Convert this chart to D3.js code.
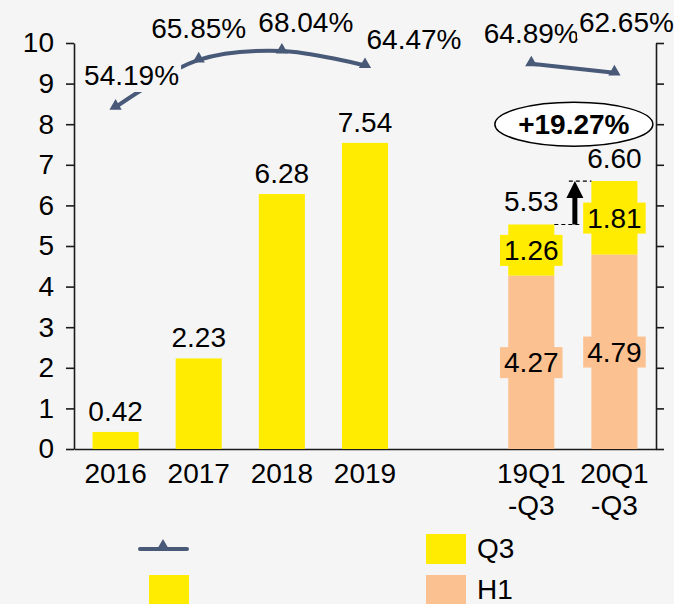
<!DOCTYPE html>
<html>
<head>
<meta charset="utf-8">
<script src="https://cdn.jsdelivr.net/npm/d3@7"></script>
<style>
  html, body { margin: 0; padding: 0; background: #f5f5f5; }
  svg { display: block; font-family: "Liberation Sans", Arial, sans-serif; }
</style>
</head>
<body>
<svg id="chart" width="674" height="604"></svg>
<script>
// categories, '' is the empty slot between the years and the quarters
const categories = ['2016', '2017', '2018', '2019', '', '19Q1\n-Q3', '20Q1\n-Q3'];
const annual = [0.42, 2.23, 6.28, 7.54, null, null, null];
const h1 = [null, null, null, null, null, 4.27, 4.79];
const q3 = [null, null, null, null, null, 1.26, 1.81];
const margin = [0.5419, 0.6585, 0.6804, 0.6447, null, 0.6489, 0.6265];
const growthText = '+19.27%';
const yTicks = [0, 1, 2, 3, 4, 5, 6, 7, 8, 9, 10];
const legendNames = ['', '', 'Q3', 'H1'];

let cs = {
    colors: { yellow: '#ffec00', peach: '#fcc190', line: '#485a78', axis: '#1a1a1a', bg: '#f5f5f5' },
    font: 28,
    plot: { left: 74, right: 656, top: 43, bottom: 449 },
    // label nudges for the percentage labels (centre offset from point)
    pctOffset: [[16, -32], [0, -32], [24, -29], [49, -26], [0, 0], [0, -31], [12, -51]]
};

const svg = d3.select('#chart');
svg.append('rect').attr('width', 674).attr('height', 604).attr('fill', cs.colors.bg);

const x = d3.scaleBand()
    .domain(categories)
    .range([cs.plot.left, cs.plot.right])
    .paddingInner(0.446)
    .paddingOuter(0.223);
const y = d3.scaleLinear().domain([0, 10]).range([cs.plot.bottom, cs.plot.top]);
const y2 = d3.scaleLinear().domain([-0.3, 0.7]).range([cs.plot.bottom, cs.plot.top]);
const cx = c => x(c) + x.bandwidth() / 2;

// text with a filled box behind it
function boxedText(g, tx, ty, str, fill, padX, padY, weight) {
    let t = g.append('text')
        .attr('x', tx).attr('y', ty)
        .attr('dy', '0.35em')
        .attr('text-anchor', 'middle')
        .attr('font-size', cs.font)
        .attr('font-weight', weight || 'normal')
        .attr('fill', '#000')
        .text(str);
    let b = t.node().getBBox();
    g.insert('rect', function () { return t.node(); })
        .attr('x', b.x - padX).attr('y', b.y - padY)
        .attr('width', b.width + 2 * padX).attr('height', b.height + 2 * padY)
        .attr('fill', fill);
    return t;
}

// axes
const yAxis = d3.axisLeft(y).tickValues(yTicks).tickSize(8).tickSizeOuter(0).tickPadding(12);
const gy = svg.append('g').attr('transform', 'translate(' + cs.plot.left + ',0)').call(yAxis);
gy.selectAll('text').attr('font-size', cs.font).attr('font-family', null).attr('fill', '#000');

const y2Axis = d3.axisRight(y2).tickValues(d3.range(11).map(i => -0.3 + i * 0.1))
    .tickSize(8).tickSizeOuter(0).tickFormat('');
svg.append('g').attr('transform', 'translate(' + cs.plot.right + ',0)').call(y2Axis);

const xAxis = d3.axisBottom(x).tickSize(0).tickSizeOuter(0).tickPadding(0).tickFormat('');
const gx = svg.append('g').attr('transform', 'translate(0,' + cs.plot.bottom + ')').call(xAxis);

svg.selectAll('.domain, .tick line').attr('stroke', cs.colors.axis).attr('stroke-width', 1.6);

gx.selectAll('.tick').each(function (d) {
    let lines = d.split('\n');
    let t = d3.select(this).append('text')
        .attr('text-anchor', 'middle')
        .attr('font-size', cs.font)
        .attr('fill', '#000');
    lines.forEach((s, i) => {
        t.append('tspan').attr('x', 0).attr('y', 34 + i * 32).text(s);
    });
});

// annual bars
const bars = svg.append('g');
categories.forEach((c, i) => {
    if (annual[i] == null) return;
    bars.append('rect')
        .attr('x', x(c)).attr('width', x.bandwidth())
        .attr('y', y(annual[i])).attr('height', y(0) - y(annual[i]))
        .attr('fill', cs.colors.yellow);
    bars.append('text')
        .attr('x', cx(c)).attr('y', y(annual[i]) - 11)
        .attr('text-anchor', 'middle')
        .attr('font-size', cs.font)
        .text(d3.format('.2f')(annual[i]));
});

// stacked quarter bars
const stack = svg.append('g');
categories.forEach((c, i) => {
    if (h1[i] == null) return;
    let tot = h1[i] + q3[i];
    stack.append('rect')
        .attr('x', x(c)).attr('width', x.bandwidth())
        .attr('y', y(h1[i])).attr('height', y(0) - y(h1[i]))
        .attr('fill', cs.colors.peach);
    stack.append('rect')
        .attr('x', x(c)).attr('width', x.bandwidth())
        .attr('y', y(tot)).attr('height', y(h1[i]) - y(tot))
        .attr('fill', cs.colors.yellow);
});
categories.forEach((c, i) => {
    if (h1[i] == null) return;
    let tot = h1[i] + q3[i];
    boxedText(stack, cx(c), (y(0) + y(h1[i])) / 2, d3.format('.2f')(h1[i]), cs.colors.peach, 4, 0);
    boxedText(stack, cx(c), (y(h1[i]) + y(tot)) / 2, d3.format('.2f')(q3[i]), cs.colors.yellow, 4, 0);
    stack.append('text')
        .attr('x', cx(c)).attr('y', y(tot) - 13)
        .attr('text-anchor', 'middle')
        .attr('font-size', cs.font)
        .text(d3.format('.2f')(tot));
});

// growth arrow between the two quarter bars
const a = categories[5], b = categories[6];
const tA = h1[5] + q3[5], tB = h1[6] + q3[6];
const ax = (cx(a) + cx(b)) / 2 + 2;
const ann = svg.append('g');
ann.append('line')
    .attr('x1', x(a) + x.bandwidth()).attr('x2', ax + 6)
    .attr('y1', y(tA)).attr('y2', y(tA))
    .attr('stroke', '#000').attr('stroke-width', 1.2).attr('stroke-dasharray', '4,3');
ann.append('line')
    .attr('x1', ax - 6).attr('x2', x(b))
    .attr('y1', y(tB)).attr('y2', y(tB))
    .attr('stroke', '#000').attr('stroke-width', 1.2).attr('stroke-dasharray', '4,3');
ann.append('line')
    .attr('x1', ax).attr('x2', ax)
    .attr('y1', y(tA)).attr('y2', y(tB) + 14)
    .attr('stroke', '#000').attr('stroke-width', 5);
ann.append('path')
    .attr('d', d3.line()([[ax, y(tB)], [ax - 8.5, y(tB) + 17], [ax + 8.5, y(tB) + 17]]) + 'Z')
    .attr('fill', '#000');
ann.append('ellipse')
    .attr('cx', (cx(a) + cx(b)) / 2 + 1).attr('cy', y(8))
    .attr('rx', 79).attr('ry', 22)
    .attr('fill', '#fff').attr('stroke', '#000').attr('stroke-width', 1.5);
ann.append('text')
    .attr('x', (cx(a) + cx(b)) / 2 + 1).attr('y', y(8))
    .attr('dy', '0.35em')
    .attr('text-anchor', 'middle')
    .attr('font-size', cs.font)
    .attr('font-weight', 'bold')
    .text(growthText);

// margin line (secondary axis)
const lineG = svg.append('g');
const pts = categories.map((c, i) => ({ c: c, v: margin[i], i: i }));
lineG.append('path')
    .datum(pts)
    .attr('d', d3.line()
        .defined(d => d.v != null)
        .x(d => cx(d.c))
        .y(d => y2(d.v))
        .curve(d3.curveCatmullRom))
    .attr('fill', 'none')
    .attr('stroke', cs.colors.line)
    .attr('stroke-width', 4)
    .attr('stroke-linecap', 'round');
lineG.selectAll('path.mk')
    .data(pts.filter(d => d.v != null))
    .enter()
    .append('path')
    .attr('class', 'mk')
    .attr('transform', d => 'translate(' + cx(d.c) + ',' + (y2(d.v) - 1) + ')')
    .attr('d', d3.symbol(d3.symbolTriangle, 65))
    .attr('fill', cs.colors.line);
pts.forEach(d => {
    if (d.v == null) return;
    let o = cs.pctOffset[d.i];
    boxedText(lineG, cx(d.c) + o[0], y2(d.v) + o[1], d3.format('.2%')(d.v), cs.colors.bg, 2, 1);
});

// legend
const lg = svg.append('g');
lg.append('line')
    .attr('x1', 140).attr('x2', 187).attr('y1', 549).attr('y2', 549)
    .attr('stroke', cs.colors.line).attr('stroke-width', 4).attr('stroke-linecap', 'round');
lg.append('path')
    .attr('transform', 'translate(163,546)')
    .attr('d', d3.symbol(d3.symbolTriangle, 65))
    .attr('fill', cs.colors.line);
lg.append('text').attr('x', 197).attr('y', 559).attr('font-size', cs.font).text(legendNames[0]);
lg.append('rect').attr('x', 149).attr('y', 575).attr('width', 40).attr('height', 30).attr('fill', cs.colors.yellow);
lg.append('text').attr('x', 197).attr('y', 599).attr('font-size', cs.font).text(legendNames[1]);
[[cs.colors.yellow, legendNames[2], 534], [cs.colors.peach, legendNames[3], 575]].forEach(e => {
    lg.append('rect').attr('x', 426).attr('y', e[2]).attr('width', 40).attr('height', 30).attr('fill', e[0]);
    lg.append('text').attr('x', 477).attr('y', e[2] + 24).attr('font-size', cs.font).attr('fill', '#000').text(e[1]);
});
</script>
</body>
</html>
